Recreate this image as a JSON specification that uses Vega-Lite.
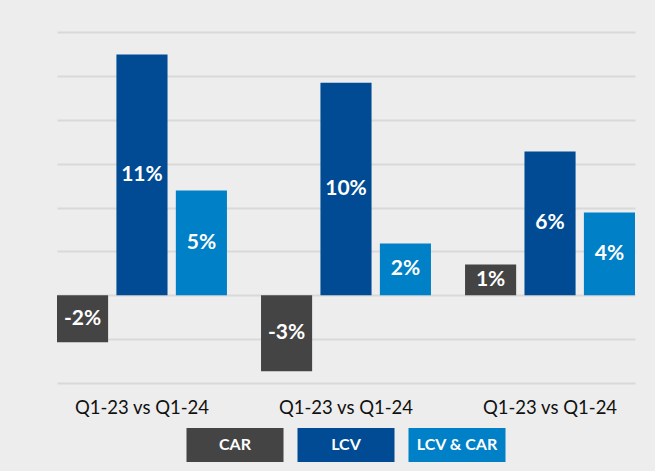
{
  "$schema": "https://vega.github.io/schema/vega-lite/v6.json",
  "background": "#ededed",
  "padding": {"left": 57, "top": 32, "right": 20, "bottom": 9},
  "config": {"font": "Lato", "view": {"stroke": null}},
  "datasets": {
    "bars": [
      {"period": "Q1-23 vs Q1-24", "series": "CAR", "value": -2.14, "label": "-2%"},
      {"period": "Q1-23 vs Q1-24", "series": "LCV", "value": 10.97, "label": "11%"},
      {"period": "Q1-23 vs Q1-24", "series": "LCV & CAR", "value": 4.77, "label": "5%"},
      {"period": "Q1-23 vs Q1-24\u00a0\u00a0\u00a0\u00a0\u00a0", "series": "CAR", "value": -3.46, "label": "-3%"},
      {"period": "Q1-23 vs Q1-24\u00a0\u00a0\u00a0\u00a0\u00a0", "series": "LCV", "value": 9.69, "label": "10%"},
      {"period": "Q1-23 vs Q1-24\u00a0\u00a0\u00a0\u00a0\u00a0", "series": "LCV & CAR", "value": 2.36, "label": "2%"},
      {"period": "Q1-23 vs Q1-24\u00a0\u00a0", "series": "CAR", "value": 1.4, "label": "1%"},
      {"period": "Q1-23 vs Q1-24\u00a0\u00a0", "series": "LCV", "value": 6.55, "label": "6%"},
      {"period": "Q1-23 vs Q1-24\u00a0\u00a0", "series": "LCV & CAR", "value": 3.77, "label": "4%"}
    ],
    "legend": [
      {"series": "CAR"},
      {"series": "LCV"},
      {"series": "LCV & CAR"}
    ]
  },
  "spacing": 11,
  "center": true,
  "vconcat": [
    {
      "width": 578,
      "height": 351,
      "data": {"name": "bars"},
      "transform": [{"calculate": "datum.value / 2", "as": "mid"}],
      "encoding": {
        "x": {
          "field": "period", "type": "nominal", "sort": null,
          "scale": {"paddingInner": 0.167, "paddingOuter": 0},
          "axis": {"title": null, "labelAngle": 0, "domain": false, "ticks": false, "tickSize": 0, "labelPadding": 15.5, "labelFontSize": 18.5, "labelColor": "#111111", "labelFont": "Lato", "grid": false}
        },
        "xOffset": {
          "field": "series", "type": "nominal", "sort": ["CAR", "LCV", "LCV & CAR"],
          "scale": {"paddingInner": 0.14, "paddingOuter": 0}
        }
      },
      "layer": [
        {
          "mark": "bar",
          "encoding": {
            "y": {
              "field": "value", "type": "quantitative",
              "scale": {"domain": [-4, 12], "nice": false, "zero": false},
              "axis": {"title": null, "labels": false, "ticks": false, "domain": false, "values": [-4, -2, 0, 2, 4, 6, 8, 10, 12], "gridColor": "#d9d9d9", "gridWidth": 2}
            },
            "color": {
              "field": "series", "type": "nominal",
              "scale": {"domain": ["CAR", "LCV", "LCV & CAR"], "range": ["#444444", "#004b93", "#0080c6"]},
              "legend": null
            }
          }
        },
        {
          "mark": {"type": "text", "fontWeight": "bold", "fontSize": 21, "color": "white", "baseline": "middle", "align": "center"},
          "encoding": {
            "y": {"field": "mid", "type": "quantitative"},
            "text": {"field": "label"}
          }
        }
      ]
    },
    {
      "width": 319,
      "height": 34,
      "data": {"name": "legend"},
      "encoding": {
        "x": {
          "field": "series", "type": "nominal", "sort": ["CAR", "LCV", "LCV & CAR"],
          "scale": {"paddingInner": 0.126, "paddingOuter": 0},
          "axis": null
        }
      },
      "layer": [
        {
          "mark": "bar",
          "encoding": {
            "color": {"field": "series", "type": "nominal", "legend": null}
          }
        },
        {
          "mark": {"type": "text", "fontWeight": "bold", "fontSize": 16, "color": "white", "baseline": "middle", "align": "center"},
          "encoding": {"text": {"field": "series"}}
        }
      ]
    }
  ]
}
